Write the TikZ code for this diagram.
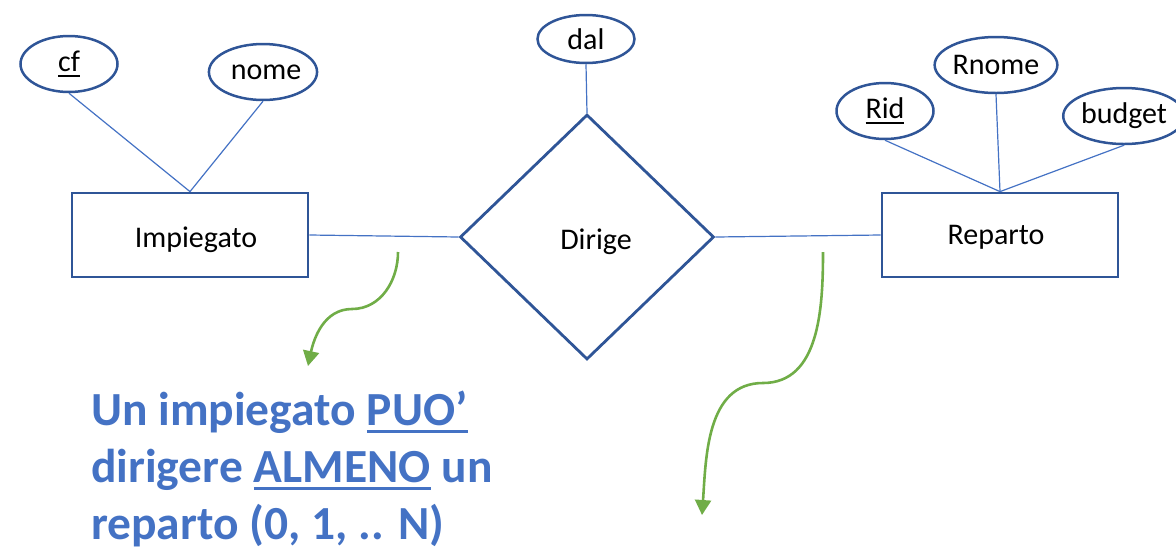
\documentclass[tikz,border=0pt]{standalone}
\usepackage{fontspec}
\setmainfont{Carlito}
\usetikzlibrary{arrows.meta,shapes.geometric}
\definecolor{erblue}{RGB}{47,85,151}
\definecolor{linkblue}{RGB}{68,114,196}
\definecolor{notegreen}{RGB}{112,173,71}
\newcommand{\ubar}[3]{\setbox0\hbox{#3}\rlap{\rule[-#1]{\wd0}{#2}}\box0\relax}
\newcommand{\lowtext}[2]{\smash{\raisebox{-#1}{#2}}}
\tikzset{
  entity/.style={draw=erblue, line width=2.8pt, rectangle, minimum width=236pt, minimum height=84pt, inner sep=0pt, font=\fontsize{30}{36}\selectfont},
  relation/.style={draw=erblue, line width=2.8pt, diamond, minimum width=254pt, minimum height=245pt, inner sep=0pt, font=\fontsize{30}{36}\selectfont},
  attr/.style={draw=erblue, line width=2.5pt, ellipse, minimum width=97pt, minimum height=56pt, inner sep=0pt, font=\fontsize{30}{36}\selectfont},
  link/.style={draw=linkblue, line width=1.2pt},
  note/.style={draw=notegreen, line width=2.6pt, -{Triangle[length=15pt,width=16pt]}},
  remark/.style={text=linkblue, align=left, inner sep=0pt, font=\fontsize{47.5}{57}\selectfont\bfseries}
}
\begin{document}
\begin{tikzpicture}[x=1pt,y=1pt]
			%%%%% START %%%%%
			\useasboundingbox (0,0) rectangle (1176,-550);
			
			\node[entity] (imp) at (190,-235) {\hspace*{12pt}\lowtext{12pt}{Impiegato}};
			\node[entity] (rep) at (1000,-235) {\hspace*{-8pt}\lowtext{9pt}{Reparto}};
			\node[relation] (dir) at (587,-237) {\hspace*{18pt}\lowtext{12pt}{Dirige}};
			
			\node[attr] (cf) at (69,-64) {\ubar{5pt}{1.6pt}{cf}};
			\node[attr] (nome) at (263,-72) {\hspace*{6pt}nome};
			\node[attr, minimum height=48pt] (dal) at (586,-39) {dal};
			\node[attr] (rid) at (885,-111) {\ubar{5pt}{1.6pt}{Rid}};
			\node[attr] (rnome) at (996,-65) {Rnome};
			\node[attr] (budget) at (1124,-116) {budget};
			
			\draw[link] (cf.south) -- (imp.north);
			\draw[link] (nome.south) -- (imp.north);
			\draw[link] (dal.south) -- (dir.north);
			\draw[link] (rid.south) -- (rep.north);
			\draw[link] (rnome.south) -- (rep.north);
			\draw[link] (budget.south) -- (rep.north);
			\draw[link] (imp.east) -- (dir.west);
			\draw[link] (dir.east) -- (rep.west);
			
			% green notes
			\coordinate (n1s) at (398,-252);
			\coordinate (n1m) at (352,-309);
			\coordinate (n1e) at (308,-366);
			\draw[note] (n1s) to[out=-90,in=0] (n1m) to[out=180,in=78] (n1e);
			
			\coordinate (n2s) at (823,-252);
			\coordinate (n2m) at (763,-383);
			\coordinate (n2e) at (702,-515);
			\draw[note] (n2s) to[out=-90,in=0] (n2m) to[out=180,in=86] (n2e);
			
			\node[remark, anchor=north west] (txt) at (91,-391)
			  {Un impiegato \ubar{7pt}{2.6pt}{PUO’}\\dirigere \ubar{7pt}{2.6pt}{ALMENO} un\\reparto (0, 1, .. N)};
			
			%%%%% END %%%%%
\end{tikzpicture}
\end{document}
